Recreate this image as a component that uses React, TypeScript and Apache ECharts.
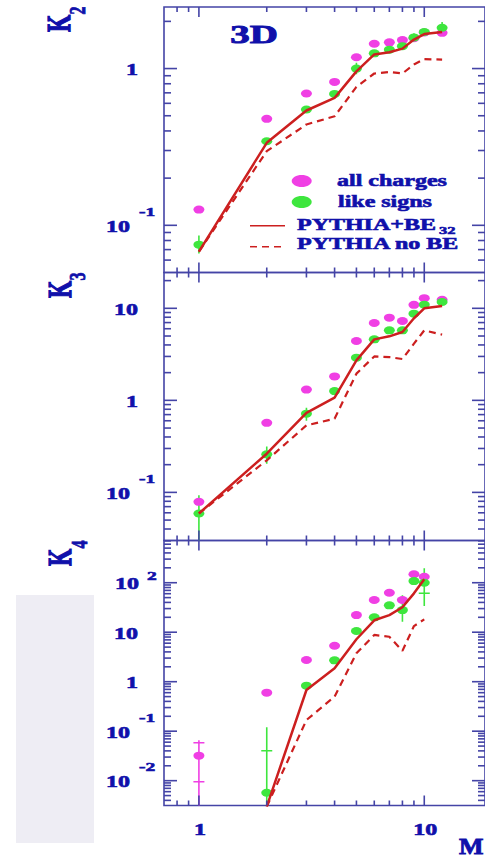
import { useEffect, useRef } from "react";
import * as echarts from "echarts";

// Multiplicity bins (horizontal axis)
const X_MASS = [1, 2, 3, 4, 5, 6, 7, 8, 9, 10, 12];
const X4_MASS = [1, 2, 3, 4, 5, 6, 7, 8, 9, 10];

// K2 panel
const K2_ALL = [0.126, 0.478, 0.693, 0.822, 1.18, 1.44, 1.47, 1.52, 1.56, 1.7, 1.69];
const K2_LIKE = [0.0753, 0.344, 0.548, 0.689, 1.0, 1.25, 1.32, 1.39, 1.58, 1.71, 1.82];
const K2_BE = [0.068, 0.336, 0.54, 0.65, 0.96, 1.23, 1.27, 1.34, 1.53, 1.66, 1.71];
const K2_NOBE = [0.068, 0.297, 0.44, 0.496, 0.764, 0.93, 0.95, 0.93, 1.06, 1.15, 1.14];

// K3 panel
const K3_ALL = [0.079, 0.57, 1.31, 1.82, 4.41, 6.92, 7.92, 7.28, 10.9, 12.9, 12.4];
const K3_LIKE = [0.059, 0.259, 0.716, 1.26, 2.91, 4.6, 5.76, 5.76, 8.75, 10.96, 11.7];
const K3_BE = [0.059, 0.263, 0.73, 1.07, 2.72, 4.6, 4.96, 5.53, 7.8, 10.0, 10.6];
const K3_NOBE = [0.059, 0.223, 0.535, 0.632, 1.95, 3.0, 2.95, 2.81, 4.13, 5.76, 5.18];

// K4 panel (bins 1..10)
const K4_ALL = [0.032, 0.6, 2.74, 5.33, 22.2, 44.7, 62.8, 44.7, 148, 132];
const K4_LIKE = [null, 0.0057, 0.83, 2.7, 10.6, 20, 34.9, 28, 108, 100];
const K4_BE = [null, 0.003, 0.68, 1.87, 7.2, 17.4, 22.2, 32, 61, 117];
const K4_NOBE = [null, 0.003, 0.168, 0.5, 3.75, 8.8, 8.1, 4.2, 13.3, 18.2];

// Error bars: [x, low, high]
const K2_LIKE_ERR = [[1, 0.066, 0.086], [5, 0.92, 1.09], [9, 1.5, 1.68], [12, 1.72, 1.98]];
const K3_LIKE_ERR = [[1, 0.01, 0.093], [2, 0.205, 0.316], [3, 0.6, 0.83]];
const K4_ALL_ERR = [[1, 0.001, 0.0655]];
const K4_LIKE_ERR = [[2, 0.001, 0.12], [8, 16.3, 56], [10, 33.8, 195]];
// Cross marks on error bars: [x, value]
const K4_ALL_CAPS = [[1, 0.0586], [1, 0.0095]];
const K4_LIKE_CAPS = [[2, 0.0404], [8, 46], [10, 61]];

// Axis ranges
const X_RANGE = [0.7, 18.6];
const K2_RANGE = [0.05, 2.47];
const K3_RANGE = [0.03, 24.5];
const K4_RANGE = [0.00315, 713];

// Tick labels
const X_TICK_LABELS = [1, 10];
const X_MAJOR = [1, 10];
const K2_DECADES = [-1, 0];
const K3_DECADES = [-1, 0, 1];
const K4_DECADES = [-2, -1, 0, 1, 2];

const AXIS = "#4444a6";
const TEXT = "#1010aa";
const MAGENTA = "#f03fe4";
const GREEN = "#3ee63e";
const RED = "#cc1f1f";
const FONT = "'Liberation Serif'";
const STRETCH = 1.5;

const ELLIPSE = "path://M-1,0 A1,1 0 1,0 1,0 A1,1 0 1,0 -1,0 Z";

const GRID_LEFT = 164;
const GRID_WIDTH = 329;
const PANELS = [
  { top: 7, height: 265.5, range: K2_RANGE },
  { top: 272.5, height: 268, range: K3_RANGE },
  { top: 540.5, height: 265, range: K4_RANGE },
];

function pairs(xs: number[], ys: (number | null)[]) {
  const out: number[][] = [];
  xs.forEach((x, i) => {
    const y = ys[i];
    if (y != null) out.push([x, y]);
  });
  return out;
}

function minorValues(range: number[]) {
  const vals: number[] = [];
  const lo = Math.floor(Math.log10(range[0]));
  const hi = Math.ceil(Math.log10(range[1]));
  for (let e = lo; e <= hi; e++) {
    for (let k = 1; k <= 9; k++) {
      const v = Number((k * Math.pow(10, e)).toPrecision(6));
      if (v > range[0] * 1.001 && v < range[1] * 0.999) vals.push(v);
    }
  }
  return vals;
}

function isDecade(v: number) {
  const l = Math.log10(v);
  return Math.abs(l - Math.round(l)) < 1e-6;
}

function textStyle(text: string, size: number, align: string) {
  return {
    text,
    fill: TEXT,
    stroke: TEXT,
    lineWidth: size > 20 ? 0.9 : 0.6,
    font: `bold ${size}px ${FONT}`,
    align,
    verticalAlign: "middle",
  };
}

function textEl(text: string, x: number, y: number, size: number, align: string, scaleX = STRETCH) {
  return {
    type: "text",
    x,
    y,
    scaleX,
    style: textStyle(text, size, align),
  };
}

function tickSeries(gi: number, yRange: number[]) {
  const data: number[][] = [];
  const xTicks = [0.8, 0.9, 1, 2, 3, 4, 5, 6, 7, 8, 9, 10];
  xTicks.forEach((v) => data.push([v, yRange[0], X_MAJOR.includes(v) ? 1 : 0, 0]));
  minorValues(yRange).forEach((v) => data.push([X_RANGE[0], v, isDecade(v) ? 1 : 0, 1]));
  return {
    type: "custom",
    xAxisIndex: gi,
    yAxisIndex: gi,
    silent: true,
    z: 5,
    data,
    renderItem: (_p: any, api: any) => {
      const v0 = api.value(0);
      const v1 = api.value(1);
      const major = api.value(2) === 1;
      const isY = api.value(3) === 1;
      const style = { stroke: AXIS, lineWidth: 1.6 };
      if (!isY) {
        const b = api.coord([v0, yRange[0]]);
        const t = api.coord([v0, yRange[1]]);
        const L = major ? 10 : 5;
        return {
          type: "group",
          children: [
            { type: "line", shape: { x1: b[0], y1: b[1], x2: b[0], y2: b[1] - L }, style },
            { type: "line", shape: { x1: t[0], y1: t[1], x2: t[0], y2: t[1] + L }, style },
          ],
        };
      }
      const l = api.coord([X_RANGE[0], v1]);
      const r = api.coord([X_RANGE[1], v1]);
      const L = major ? 13 : 7;
      return {
        type: "group",
        children: [
          { type: "line", shape: { x1: l[0], y1: l[1], x2: l[0] + L, y2: l[1] }, style },
          { type: "line", shape: { x1: r[0], y1: r[1], x2: r[0] - L, y2: r[1] }, style },
        ],
      };
    },
  };
}

function yLabelSeries(gi: number, decades: number[]) {
  return {
    type: "custom",
    xAxisIndex: gi,
    yAxisIndex: gi,
    silent: true,
    clip: false,
    data: decades.map((e) => [X_RANGE[0], Math.pow(10, e), e]),
    renderItem: (_p: any, api: any) => {
      const e = api.value(2);
      const p = api.coord([X_RANGE[0], api.value(1)]);
      if (e === 0 || e === 1) {
        return textEl(e === 0 ? "1" : "10", p[0] - 26, p[1] + 1, 16, "right");
      }
      const baseRight = e < 0 ? p[0] - 34 : p[0] - 25;
      const expLeft = e < 0 ? p[0] - 25 : p[0] - 17;
      const expDy = e < 0 ? -13.5 : -7;
      return {
        type: "group",
        children: [
          textEl("10", baseRight, p[1] + 1, 16, "right"),
          textEl(String(e), expLeft, p[1] + expDy, 13, "left"),
        ],
      };
    },
  };
}

function xLabelSeries(gi: number, yRange: number[]) {
  return {
    type: "custom",
    xAxisIndex: gi,
    yAxisIndex: gi,
    silent: true,
    clip: false,
    data: X_TICK_LABELS.map((v) => [v, yRange[0]]),
    renderItem: (_p: any, api: any) => {
      const v = api.value(0);
      const p = api.coord([v, yRange[0]]);
      return textEl(String(v), p[0] + 1, p[1] + 24.5, 16, "center");
    },
  };
}

function errSeries(gi: number, data: number[][], color: string) {
  return {
    type: "custom",
    xAxisIndex: gi,
    yAxisIndex: gi,
    silent: true,
    clip: true,
    z: 2,
    data,
    renderItem: (_p: any, api: any) => {
      const a = api.coord([api.value(0), api.value(1)]);
      const b = api.coord([api.value(0), api.value(2)]);
      return {
        type: "line",
        shape: { x1: a[0], y1: a[1], x2: b[0], y2: b[1] },
        style: { stroke: color, lineWidth: 1.6 },
      };
    },
  };
}

function capSeries(gi: number, data: number[][], color: string) {
  return {
    type: "custom",
    xAxisIndex: gi,
    yAxisIndex: gi,
    silent: true,
    clip: true,
    z: 2,
    data,
    renderItem: (_p: any, api: any) => {
      const c = api.coord([api.value(0), api.value(1)]);
      return {
        type: "line",
        shape: { x1: c[0] - 5.5, y1: c[1], x2: c[0] + 5.5, y2: c[1] },
        style: { stroke: color, lineWidth: 1.5 },
      };
    },
  };
}

function scatter(gi: number, data: number[][], color: string) {
  return {
    type: "scatter",
    xAxisIndex: gi,
    yAxisIndex: gi,
    symbol: ELLIPSE,
    symbolSize: [11, 8],
    itemStyle: { color, opacity: 1 },
    z: 3,
    data,
  };
}

function curve(gi: number, data: number[][], dashed: boolean) {
  return {
    type: "line",
    xAxisIndex: gi,
    yAxisIndex: gi,
    symbol: "none",
    showSymbol: false,
    z: 4,
    lineStyle: { color: RED, width: dashed ? 2.2 : 2.5, type: dashed ? [7, 5] : "solid" },
    data,
  };
}

function rotatedLabel(x: number, y: number, main: string, sub: string, subY: number) {
  return {
    type: "group",
    x,
    y,
    rotation: Math.PI / 2,
    scaleY: STRETCH,
    children: [
      { type: "text", x: 0, y: 0, style: textStyle(main, 22, "left") },
      { type: "text", x: 17.5, y: subY, style: textStyle(sub, 16, "left") },
    ],
  };
}

export default function App() {
  const ref = useRef<HTMLDivElement>(null);

  useEffect(() => {
    if (!ref.current) return;
    const chart = echarts.init(ref.current, null, { renderer: "svg" });

    const grids = PANELS.map((p) => ({
      left: GRID_LEFT,
      top: p.top,
      width: GRID_WIDTH,
      height: p.height,
      show: true,
      borderColor: AXIS,
      borderWidth: 1.6,
      backgroundColor: "transparent",
    }));
    const xAxes = PANELS.map((_p, i) => ({
      type: "log",
      gridIndex: i,
      min: X_RANGE[0],
      max: X_RANGE[1],
      show: false,
    }));
    const yAxes = PANELS.map((p, i) => ({
      type: "log",
      gridIndex: i,
      min: p.range[0],
      max: p.range[1],
      show: false,
    }));

    const series: any[] = [
      // K2
      errSeries(0, K2_LIKE_ERR, GREEN),
      scatter(0, pairs(X_MASS, K2_ALL), MAGENTA),
      scatter(0, pairs(X_MASS, K2_LIKE), GREEN),
      curve(0, pairs(X_MASS, K2_NOBE), true),
      curve(0, pairs(X_MASS, K2_BE), false),
      // K3
      errSeries(1, K3_LIKE_ERR, GREEN),
      scatter(1, pairs(X_MASS, K3_ALL), MAGENTA),
      scatter(1, pairs(X_MASS, K3_LIKE), GREEN),
      curve(1, pairs(X_MASS, K3_NOBE), true),
      curve(1, pairs(X_MASS, K3_BE), false),
      // K4
      errSeries(2, K4_ALL_ERR, MAGENTA),
      capSeries(2, K4_ALL_CAPS, MAGENTA),
      errSeries(2, K4_LIKE_ERR, GREEN),
      capSeries(2, K4_LIKE_CAPS, GREEN),
      scatter(2, pairs(X4_MASS, K4_ALL), MAGENTA),
      scatter(2, pairs(X4_MASS, K4_LIKE), GREEN),
      curve(2, pairs(X4_MASS, K4_NOBE), true),
      curve(2, pairs(X4_MASS, K4_BE), false),
      // axis ticks and tick labels
      tickSeries(0, K2_RANGE),
      tickSeries(1, K3_RANGE),
      tickSeries(2, K4_RANGE),
      yLabelSeries(0, K2_DECADES),
      yLabelSeries(1, K3_DECADES),
      yLabelSeries(2, K4_DECADES),
      xLabelSeries(2, K4_RANGE),
    ];

    const graphic: any[] = [
      { type: "rect", z: -10, shape: { x: 16, y: 595, width: 78, height: 248 }, style: { fill: "#eeedf4" } },
      rotatedLabel(59, 32, "K", "2", 11.7),
      rotatedLabel(60, 298, "K", "3", 11),
      rotatedLabel(59.5, 566, "K", "4", 12.7),
      textEl("3D", 254, 33.5, 26, "center"),
      textEl("M", 459, 845.5, 24, "left", 1.08),
      // legend
      { type: "ellipse", shape: { cx: 301.7, cy: 181, rx: 10, ry: 6 }, style: { fill: MAGENTA } },
      { type: "ellipse", shape: { cx: 301.7, cy: 202, rx: 10, ry: 6 }, style: { fill: GREEN } },
      textEl("all charges", 337, 181, 16, "left"),
      textEl("like signs", 338, 202, 16, "left"),
      { type: "line", shape: { x1: 250, y1: 225.7, x2: 285, y2: 225.7 }, style: { stroke: RED, lineWidth: 1.5 } },
      { type: "line", shape: { x1: 250, y1: 246.7, x2: 285, y2: 246.7 }, style: { stroke: RED, lineWidth: 1.5, lineDash: [7, 5] } },
      textEl("PYTHIA+BE", 297, 225, 16, "left"),
      textEl("32", 439, 230, 11, "left"),
      textEl("PYTHIA no BE", 297, 244, 16, "left"),
    ];

    chart.setOption({
      animation: false,
      backgroundColor: "#ffffff",
      grid: grids,
      xAxis: xAxes,
      yAxis: yAxes,
      series,
      graphic,
    });

    return () => {
      chart.dispose();
    };
  }, []);

  return (
    <div
      ref={ref}
      style={{ position: "absolute", left: 0, top: 0, width: 485, height: 860 }}
    />
  );
}
